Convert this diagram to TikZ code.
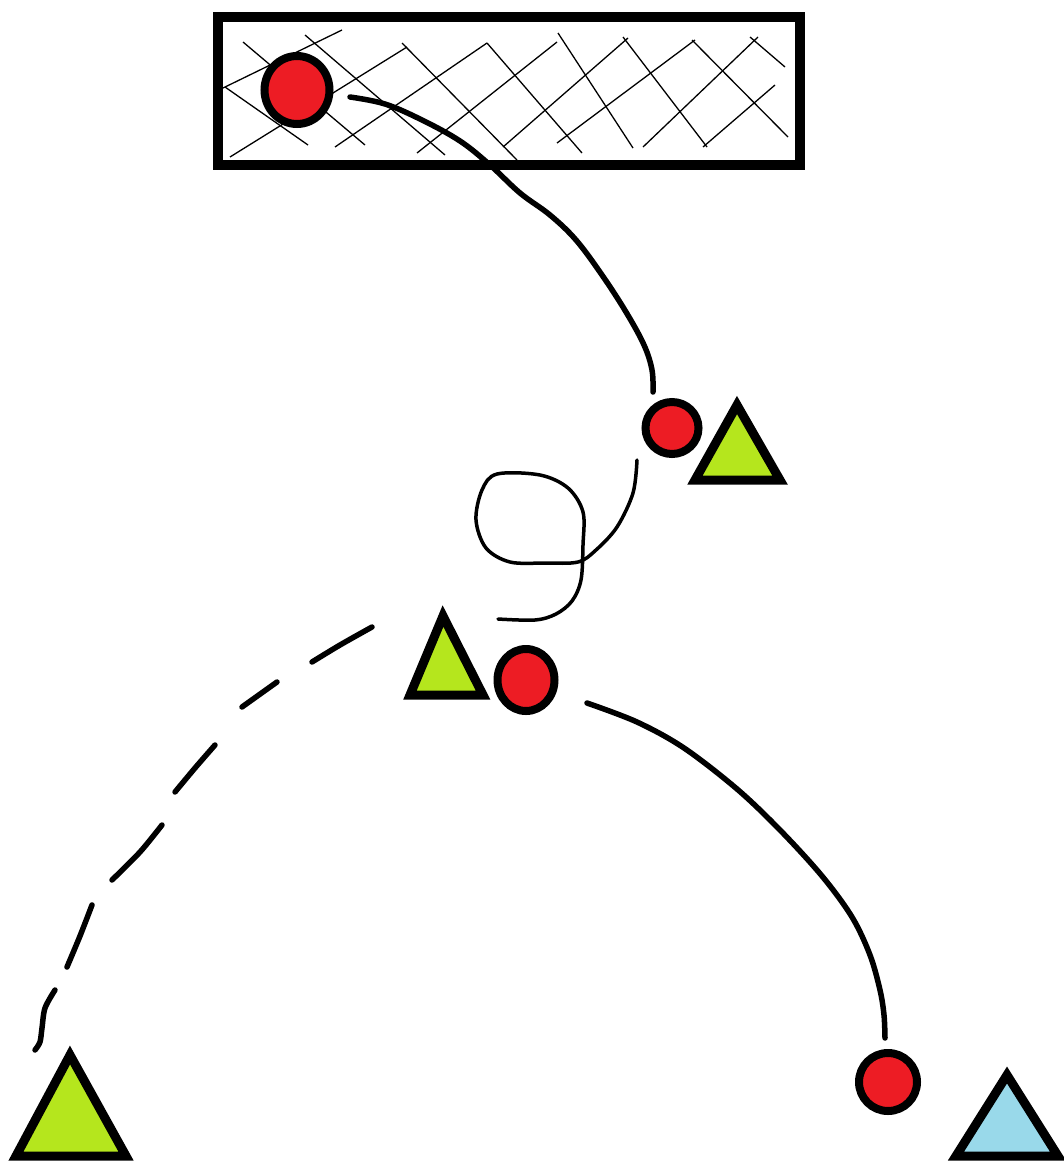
\documentclass[tikz,border=0pt]{standalone}
\begin{document}
\definecolor{ballred}{HTML}{ED1C24}
\definecolor{conegreen}{HTML}{B5E61D}
\definecolor{coneblue}{HTML}{99D9EA}
\begin{tikzpicture}[x=1pt,y=-1pt,
  ball/.style={draw=black,fill=ballred,line width=8pt},
  cone/.style={draw=black,line width=9pt,line join=miter},
  runpath/.style={line width=5.5pt,line cap=round,line join=round},
  dribble/.style={line width=3.5pt,line cap=round,line join=round},
  passdash/.style={line width=5.5pt,line cap=round,line join=round},
  netline/.style={line width=1.3pt},
  goalframe/.style={draw=black,line width=10pt,fill=white}]
\useasboundingbox (0,0) rectangle (1064,1162);
\fill[white] (0,0) rectangle (1064,1162);
% goal
\draw[goalframe] (218,17) rectangle (800,165);
\begin{scope}
\clip (223,22) rectangle (795,160);
\foreach \a/\b/\c/\d in {243/42/365/145, 225/87/308/145, 305/35/445/155, 402/43/517/160,
  487/43/582/153, 558/33/633/148, 623/37/707/147, 692/40/788/137, 750/37/785/67,
  223/88/342/30, 230/157/407/47, 335/147/487/43, 417/153/557/42, 503/147/628/38,
  557/143/695/40, 643/147/758/37, 703/147/775/85}
  \draw[netline] (\a,\b) -- (\c,\d);
\end{scope}
% balls
\draw[ball] (297,90) coordinate (ballgoal) ellipse [x radius=32.5pt, y radius=34pt];
\draw[ball] (672,428) coordinate (balltwo) ellipse [x radius=26.5pt, y radius=26pt];
\draw[ball] (526,680) coordinate (ballthree) ellipse [x radius=28.5pt, y radius=31pt];
\draw[ball] (888,1082) coordinate (ballfour) ellipse [x radius=29pt, y radius=29pt];
% cones
\draw[cone,fill=conegreen] (737,405) coordinate (coneone) -- (780,480) -- (695,480) -- cycle;
\draw[cone,fill=conegreen] (443,616) coordinate (conetwo) -- (483,695) -- (410,695) -- cycle;
\draw[cone,fill=conegreen] (70,1055) coordinate (conethree) -- (126,1156) -- (16,1156) -- cycle;
\draw[cone,fill=coneblue] (1007,1075) coordinate (conefour) -- (1058,1156) -- (956,1156) -- cycle;
% path ends
\coordinate (runAstart) at (350,97);
\coordinate (runAend) at (653,392);
\coordinate (dribStart) at (637,460);
\coordinate (dribEnd) at (498,619);
\coordinate (passStart) at (372,627);
\coordinate (passEnd) at (35,1050);
\coordinate (runBstart) at (587,703);
\coordinate (runBend) at (885,1038);
% movement lines
\draw[runpath] plot[smooth,tension=0.6] coordinates {(runAstart) (385,104) (422,120) (460,141) (490,165) (520,193) (550,215) (576,240) (602,275) (626,312) (644,345) (652,370) (runAend)};
\draw[dribble] plot[smooth,tension=0.55] coordinates {(dribStart) (633,493) (617,527) (596,550) (578,562) (545,563) (510,562) (486,548) (476,520) (482,490) (497,474) (540,475) (568,488) (583,512) (583,545) (581,580) (572,601) (556,614) (535,620) (dribEnd)};
% dashed pass, drawn dash by dash
\draw[passdash] plot[smooth] coordinates {(passStart) (340,645) (312,662)};
\draw[passdash] (277,682) -- (242,707);
\draw[passdash] plot[smooth] coordinates {(215,745) (195,768) (175,792)};
\draw[passdash] plot[smooth] coordinates {(162,825) (140,852) (112,880)};
\draw[passdash] plot[smooth] coordinates {(92,905) (80,936) (67,967)};
\draw[passdash] plot[smooth] coordinates {(55,990) (45,1008) (42,1028) (40,1042) (passEnd)};
\draw[runpath] plot[smooth,tension=0.55] coordinates {(runBstart) (637,722) (684,748) (737,789) (780,830) (822,876) (852,917) (870,955) (880,990) (884,1015) (runBend)};
\end{tikzpicture}
\end{document}
